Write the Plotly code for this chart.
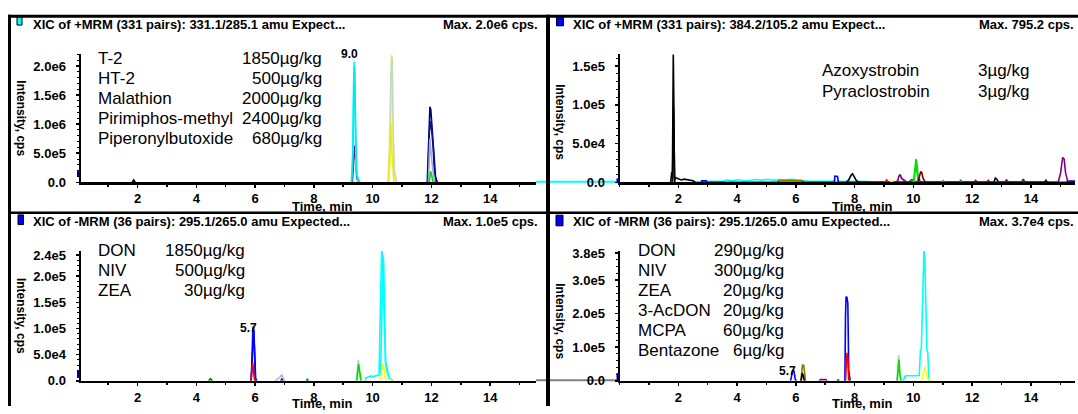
import plotly.graph_objects as go

W, H = 1078, 414
FONT = "Arial, Liberation Sans, sans-serif"

# ------------------------------------------------------------------ data
left_time_range = [0.06, 15.56]
right_time_range = [0.0, 15.5]
time_ticks = [2, 4, 6, 8, 10, 12, 14]

tl_yticks = [0, 5e5, 1.0e6, 1.5e6, 2.0e6]
tl_ytext = ["0.0", "5.0e5", "1.0e6", "1.5e6", "2.0e6"]
tl_yrange = [0, 2.2e6]
tr_yticks = [0, 5e4, 1.0e5, 1.5e5]
tr_ytext = ["0.0", "5.0e4", "1.0e5", "1.5e5"]
tr_yrange = [0, 1.65e5]
bl_yticks = [0, 5e4, 1.0e5, 1.5e5, 2.0e5, 2.4e5]
bl_ytext = ["0.0", "5.0e4", "1.0e5", "1.5e5", "2.0e5", "2.4e5"]
bl_yrange = [0, 2.48e5]
br_yticks = [0, 1.0e5, 2.0e5, 3.0e5, 3.8e5]
br_ytext = ["0.0", "1.0e5", "2.0e5", "3.0e5", "3.8e5"]
br_yrange = [0, 3.86e5]

titles = [
    "XIC of +MRM (331 pairs): 331.1/285.1 amu Expect...",
    "XIC of +MRM (331 pairs): 384.2/105.2 amu Expect...",
    "XIC of -MRM (36 pairs): 295.1/265.0 amu Expected...",
    "XIC of -MRM (36 pairs): 295.1/265.0 amu Expected...",
]
max_labels = ["Max. 2.0e6 cps.", "Max. 795.2 cps.", "Max. 1.0e5 cps.", "Max. 3.7e4 cps."]
title_swatch = ["#00FFFF", "#0000FF", "#0000FF", "#0000FF"]

tl_names = ["T-2", "HT-2", "Malathion", "Pirimiphos-methyl", "Piperonylbutoxide"]
tl_conc = ["1850µg/kg", "500µg/kg", "2000µg/kg", "2400µg/kg", "680µg/kg"]
tr_names = ["Azoxystrobin", "Pyraclostrobin"]
tr_conc = ["3µg/kg", "3µg/kg"]
bl_names = ["DON", "NIV", "ZEA"]
bl_conc = ["1850µg/kg", "500µg/kg", "30µg/kg"]
br_names = ["DON", "NIV", "ZEA", "3-AcDON", "MCPA", "Bentazone"]
br_conc = ["290µg/kg", "300µg/kg", "20µg/kg", "20µg/kg", "60µg/kg", "6µg/kg"]

rt_labels = [("tl", 9.21, 2.2e6, "9.0"), ("bl", 5.77, 1.0e5, "5.7"), ("br", 5.72, 3.0e4, "5.7")]

# ---- top-left traces
a_cyan1_t = [9.27, 9.32, 9.35, 9.37, 9.40, 9.43, 9.47, 9.52, 9.57]
a_cyan1_y = [0, 0.3e6, 1.6e6, 2.08e6, 1.5e6, 0.3e6, 0.12e6, 0.05e6, 0]
a_cyan2_t = [9.29, 9.34, 9.37, 9.39, 9.42, 9.46, 9.50]
a_cyan2_y = [0, 0.8e6, 1.95e6, 2.0e6, 1.0e6, 0.15e6, 0]
a_purple_t = [9.31, 9.36, 9.39, 9.42, 9.46, 9.51]
a_purple_y = [0, 0.35e6, 0.63e6, 0.45e6, 0.08e6, 0]
a_yellow1_t = [10.55, 10.60, 10.63, 10.65, 10.68, 10.72, 10.78]
a_yellow1_y = [0, 0.4e6, 1.6e6, 2.2e6, 1.2e6, 0.2e6, 0]
a_sage_t = [10.53, 10.58, 10.62, 10.65, 10.67, 10.70, 10.74, 10.82]
a_sage_y = [0, 0.7e6, 1.8e6, 2.16e6, 2.1e6, 0.9e6, 0.2e6, 0]
a_yellow2_t = [10.54, 10.59, 10.62, 10.66, 10.72]
a_yellow2_y = [0, 0.6e6, 1.02e6, 0.5e6, 0]
a_navy1_t = [11.86, 11.90, 11.95, 11.98, 12.01, 12.04, 12.09, 12.14, 12.20]
a_navy1_y = [0, 0.6e6, 1.3e6, 1.25e6, 1.0e6, 0.95e6, 0.5e6, 0.1e6, 0]
a_navy2_t = [11.88, 11.93, 11.97, 12.01, 12.06, 12.11, 12.16]
a_navy2_y = [0, 0.85e6, 1.05e6, 0.9e6, 0.6e6, 0.15e6, 0]
a_steel_t = [11.90, 11.95, 11.99, 12.05, 12.12]
a_steel_y = [0, 0.75e6, 0.5e6, 0.2e6, 0]
a_green_t = [11.93, 11.97, 12.01, 12.06]
a_green_y = [0, 0.19e6, 0.12e6, 0]
a_black_t = [1.82, 1.87, 1.92]
a_black_y = [0, 0.04e6, 0]

# ---- top-right traces
b_black1_t = [1.74, 1.78, 1.80, 1.83, 1.85, 1.87, 1.90, 2.00, 2.10, 2.20, 2.30, 2.40, 2.50, 2.58]
b_black1_y = [0, 1.3e4, 0.5e4, 1.66e5, 1.0e5, 0.2e4, 0.6e4, 0.4e4, 0.3e4, 0.4e4, 0.3e4, 0.3e4, 0.2e4, 0]
b_black2_t = [1.80, 1.84, 1.88]
b_black2_y = [0, 0.95e5, 0]
b_cyan_t = [2.55, 2.65, 2.95, 3.25, 3.52, 3.65, 3.85, 4.05, 4.25, 4.45, 4.65, 4.85, 5.05, 5.25,
            5.45, 5.65, 5.85, 6.05, 6.25, 6.40, 6.90, 7.30, 7.70, 8.10, 8.45, 8.55]
b_cyan_y = [0, 1000, 1200, 1000, 1300, 3200, 1800, 3500, 1600, 2500, 3600, 2800, 3800, 2400,
            3600, 3000, 3800, 2800, 2000, 1400, 1200, 1300, 1400, 1200, 1000, 0]
b_olive_t = [5.38, 5.42, 5.60, 5.80, 6.00, 6.22, 6.27]
b_olive_y = [0, 2300, 2600, 2400, 2600, 2300, 0]
b_blue_t = [2.78, 2.80, 2.95, 2.98, 7.31, 7.33, 7.42, 7.45, 10.14, 10.16, 10.19, 10.22, 15.20, 15.26, 15.50]
b_blue_y = [0, 1800, 1800, 0, 0, 8000, 7500, 0, 0, 9000, 8000, 0, 0, 1500, 1500]
b_black3_t = [7.72, 7.80, 7.88, 7.93, 7.99, 8.06, 8.15, 12.74, 12.79, 12.84, 12.90, 14.46, 14.51, 14.56]
b_black3_y = [0, 3000, 9000, 11000, 7000, 2000, 0, 0, 5500, 4000, 0, 0, 2500, 0]
b_red_t = [9.04, 9.09, 9.14]
b_red_y = [0, 3000, 0]
b_yellow_t = [9.22, 9.26, 9.30]
b_yellow_y = [0, 2500, 0]
b_purple_t = [9.40, 9.47, 9.51, 9.55, 9.60, 9.66, 9.71, 9.78, 12.06, 12.12, 12.18, 12.49, 12.55, 12.61,
              13.10, 13.17, 13.24, 13.68, 13.74, 13.80, 14.93, 15.01, 15.08, 15.13, 15.18, 15.24, 15.30]
b_purple_y = [0, 2000, 8000, 10000, 5000, 3500, 1500, 0, 0, 2500, 0, 0, 2500, 0,
              0, 3000, 0, 0, 4000, 0, 0, 12000, 32000, 30000, 12000, 3000, 0]
b_dkgreen_t = [9.86, 9.92, 9.98, 10.04]
b_dkgreen_y = [0, 3000, 3500, 0]
b_green1_t = [10.00, 10.04, 10.07, 10.09, 10.12, 10.15, 10.18]
b_green1_y = [0, 1.2e4, 2.6e4, 3.0e4, 2.4e4, 0.6e4, 0]
b_green2_t = [10.02, 10.06, 10.09, 10.13, 10.17]
b_green2_y = [0, 1.8e4, 2.3e4, 1.2e4, 0]
b_dkred_t = [10.16, 10.20, 10.25, 10.29, 10.33, 10.38, 10.43]
b_dkred_y = [0, 0.7e4, 1.4e4, 1.2e4, 0.5e4, 0.2e4, 0]
b_olive2_t = [10.97, 11.02, 11.07]
b_olive2_y = [0, 2000, 0]
b_teal_t = [11.57, 11.61, 11.65]
b_teal_y = [0, 3000, 0]

# ---- bottom-left traces
c_dkgreen_t = [4.42, 4.48, 4.55]
c_dkgreen_y = [0, 4000, 0]
c_blue1_t = [5.86, 5.89, 5.92, 5.94, 5.96, 5.99, 6.02, 6.06]
c_blue1_y = [0, 0.3e5, 0.9e5, 1.04e5, 0.95e5, 0.4e5, 0.05e5, 0]
c_blue2_t = [5.87, 5.91, 5.95, 5.98, 6.01]
c_blue2_y = [0, 0.6e5, 0.98e5, 0.6e5, 0]
c_red_t = [5.86, 5.89, 5.92, 5.95, 5.99]
c_red_y = [0, 0.2e5, 0.36e5, 0.15e5, 0]
c_ltblue_t = [6.68, 6.76, 6.83, 6.91, 6.95, 7.02]
c_ltblue_y = [0, 3000, 6000, 12000, 5000, 0]
c_purple_t = [6.87, 6.91, 6.95]
c_purple_y = [0, 3500, 0]
c_teal_t = [7.74, 7.78, 7.82]
c_teal_y = [0, 3000, 0]
c_sage_t = [9.45, 9.49, 9.52, 9.55, 9.59]
c_sage_y = [0, 2.5e4, 4.0e4, 1.5e4, 0]
c_green_t = [9.46, 9.50, 9.52, 9.55, 9.58, 9.61]
c_green_y = [0, 2.0e4, 3.2e4, 2.2e4, 0.4e4, 0]
c_cyan1_t = [9.75, 9.77, 9.83, 9.92, 10.00, 10.10, 10.22, 10.27, 10.31, 10.34, 10.37, 10.40, 10.44,
             10.48, 10.53, 10.58, 10.65, 10.70]
c_cyan1_y = [0, 0.6e4, 0.7e4, 0.9e4, 0.8e4, 1.0e4, 1.1e4, 1.6e5, 2.49e5, 2.4e5, 1.8e5, 0.9e5, 0.35e5,
             0.3e5, 0.12e5, 0.05e5, 0.02e5, 0]
c_cyan2_t = [10.27, 10.31, 10.34, 10.36, 10.38, 10.41, 10.44, 10.48, 10.54, 10.60, 10.68]
c_cyan2_y = [0.1e5, 1.2e5, 2.3e5, 2.37e5, 2.2e5, 1.0e5, 0.35e5, 0.2e5, 0.08e5, 0.03e5, 0]
c_yellow_t = [10.25, 10.29, 10.32, 10.34, 10.37, 10.41, 10.45, 10.51, 10.57, 10.62, 10.67]
c_yellow_y = [0, 0.8e4, 2.5e4, 3.3e4, 2.8e4, 1.0e4, 0.4e4, 0.3e4, 0.35e4, 0.2e4, 0]

# ---- bottom-right traces
d_blue1_t = [5.82, 5.86, 5.90, 5.94, 5.98, 6.02]
d_blue1_y = [0, 1.6e4, 3.3e4, 2.8e4, 0.5e4, 0]
d_olive_t = [6.17, 6.20, 6.23, 6.27, 6.30, 6.33]
d_olive_y = [0, 3.5e4, 4.7e4, 4.6e4, 0.8e4, 0]
d_black_t = [6.18, 6.22, 6.25, 6.29]
d_black_y = [0, 2.3e4, 1.6e4, 0]
d_purple_t = [6.80, 6.84, 6.93, 7.02, 7.07]
d_purple_y = [0, 3500, 3800, 3500, 0]
d_teal_t = [7.40, 7.44, 7.48]
d_teal_y = [0, 3500, 0]
d_blue2_t = [7.64, 7.67, 7.69, 7.71, 7.74, 7.77, 7.80, 7.82, 7.85]
d_blue2_y = [0, 0, 1.9e5, 2.5e5, 2.48e5, 2.3e5, 0.3e5, 0.1e5, 0]
d_red_t = [7.69, 7.72, 7.74, 7.77, 7.80]
d_red_y = [0, 0.6e5, 0.83e5, 0.7e5, 0]
d_sage_t = [9.44, 9.48, 9.50, 9.53, 9.57]
d_sage_y = [0, 5e4, 7.6e4, 3e4, 0]
d_green_t = [9.45, 9.48, 9.51, 9.54, 9.58]
d_green_y = [0, 3e4, 6.3e4, 2e4, 0]
d_cyan_t = [9.62, 9.66, 9.70, 9.75, 9.85, 9.95, 10.05, 10.20, 10.24, 10.27, 10.31, 10.34, 10.36,
            10.39, 10.43, 10.46, 10.49, 10.51, 10.53, 10.56]
d_cyan_y = [0, 0, 1.2e4, 1.5e4, 1.5e4, 1.4e4, 1.5e4, 1.6e4, 9.0e4, 9.5e4, 2.5e5, 3.85e5, 3.88e5,
            3.6e5, 1.5e5, 9.0e4, 8.5e4, 2e4, 0, 0]
d_yellow_t = [10.28, 10.32, 10.36, 10.39, 10.43, 10.48, 10.54, 10.60, 10.66]
d_yellow_y = [0, 1.5e4, 3.5e4, 4.2e4, 2.5e4, 0.6e4, 0.4e4, 0.3e4, 0]

# (panel, colour, t, y)
series = [
    ("tl", "#000000", a_black_t, a_black_y),
    ("tl", "#800080", a_purple_t, a_purple_y),
    ("tl", "#00FFFF", a_cyan1_t, a_cyan1_y),
    ("tl", "#00E8F0", a_cyan2_t, a_cyan2_y),
    ("tl", "#FFFF00", a_yellow1_t, a_yellow1_y),
    ("tl", "#C4D8C4", a_sage_t, a_sage_y),
    ("tl", "#E8E830", a_yellow2_t, a_yellow2_y),
    ("tl", "#000080", a_navy1_t, a_navy1_y),
    ("tl", "#10108A", a_navy2_t, a_navy2_y),
    ("tl", "#A0ACD8", a_steel_t, a_steel_y),
    ("tl", "#00E000", a_green_t, a_green_y),
    ("tr", "#00FFFF", b_cyan_t, b_cyan_y),
    ("tr", "#808000", b_olive_t, b_olive_y),
    ("tr", "#000000", b_black1_t, b_black1_y),
    ("tr", "#000000", b_black2_t, b_black2_y),
    ("tr", "#0000FF", b_blue_t, b_blue_y),
    ("tr", "#000000", b_black3_t, b_black3_y),
    ("tr", "#FF0000", b_red_t, b_red_y),
    ("tr", "#FFFF00", b_yellow_t, b_yellow_y),
    ("tr", "#800080", b_purple_t, b_purple_y),
    ("tr", "#006400", b_dkgreen_t, b_dkgreen_y),
    ("tr", "#00E000", b_green1_t, b_green1_y),
    ("tr", "#00E000", b_green2_t, b_green2_y),
    ("tr", "#800000", b_dkred_t, b_dkred_y),
    ("tr", "#808000", b_olive2_t, b_olive2_y),
    ("tr", "#008080", b_teal_t, b_teal_y),
    ("bl", "#008000", c_dkgreen_t, c_dkgreen_y),
    ("bl", "#0000FF", c_blue1_t, c_blue1_y),
    ("bl", "#0000FF", c_blue2_t, c_blue2_y),
    ("bl", "#FF0000", c_red_t, c_red_y),
    ("bl", "#A0C0F0", c_ltblue_t, c_ltblue_y),
    ("bl", "#800080", c_purple_t, c_purple_y),
    ("bl", "#008080", c_teal_t, c_teal_y),
    ("bl", "#B8CCB8", c_sage_t, c_sage_y),
    ("bl", "#00E000", c_green_t, c_green_y),
    ("bl", "#00FFFF", c_cyan1_t, c_cyan1_y),
    ("bl", "#00FFFF", c_cyan2_t, c_cyan2_y),
    ("bl", "#FFFF00", c_yellow_t, c_yellow_y),
    ("br", "#0000FF", d_blue1_t, d_blue1_y),
    ("br", "#808000", d_olive_t, d_olive_y),
    ("br", "#000000", d_black_t, d_black_y),
    ("br", "#800080", d_purple_t, d_purple_y),
    ("br", "#008080", d_teal_t, d_teal_y),
    ("br", "#0000FF", d_blue2_t, d_blue2_y),
    ("br", "#FF0000", d_red_t, d_red_y),
    ("br", "#B8CCB8", d_sage_t, d_sage_y),
    ("br", "#00E000", d_green_t, d_green_y),
    ("br", "#00FFFF", d_cyan_t, d_cyan_y),
    ("br", "#FFFF00", d_yellow_t, d_yellow_y),
]

# ------------------------------------------------------------------ layout geometry (pixels)
def px(x):
    return x / W


def py(y):
    return 1 - y / H


panels = {
    # name: (axis index, x0px, x1px, ytop px, ybottom px, x range, yticks, ytext, yrange, minor dtick)
    "tl": (1, 80.5, 536, 51, 183, left_time_range, tl_yticks, tl_ytext, tl_yrange, 1e5),
    "tr": (2, 619.5, 1075, 51, 183, right_time_range, tr_yticks, tr_ytext, tr_yrange, 1e4),
    "bl": (3, 80.5, 536, 254, 388, left_time_range, bl_yticks, bl_ytext, bl_yrange, 1e4),
    "br": (4, 619.5, 1075, 254, 388, right_time_range, br_yticks, br_ytext, br_yrange, 2e4),
}

fig = go.Figure()
tickfont = dict(family=FONT, size=13, color="black", weight="bold")

for name, (i, x0, x1, yt, yb, xr, ytv, ytt, yr, mdt) in panels.items():
    sx = "" if i == 1 else str(i)
    fig.layout["xaxis" + sx] = dict(
        domain=[px(x0), px(x1)], range=xr, anchor="y" + sx,
        tickvals=time_ticks, ticks="outside", ticklen=3, tickwidth=1.5, tickcolor="black",
        minor=dict(dtick=1, ticks="outside", ticklen=2, tickwidth=1.5, tickcolor="black"),
        showline=True, linewidth=2.5, linecolor="black", showgrid=False, zeroline=False,
        tickfont=tickfont, fixedrange=True,
    )
    fig.layout["yaxis" + sx] = dict(
        domain=[py(yb), py(yt)], range=yr, anchor="x" + sx,
        tickvals=ytv, ticktext=ytt, ticks="outside", ticklen=3, tickwidth=1.5, tickcolor="black",
        minor=dict(dtick=mdt, ticks="outside", ticklen=2, tickwidth=1, tickcolor="black"),
        ticklabelstandoff=7,
        showline=True, linewidth=2, linecolor="black", showgrid=False, zeroline=False,
        tickfont=tickfont, fixedrange=True,
    )

axis_of = {k: v[0] for k, v in panels.items()}
for name, color, t, y in series:
    i = axis_of[name]
    sx = "" if i == 1 else str(i)
    fig.add_trace(go.Scatter(x=t, y=y, mode="lines", line=dict(color=color, width=1.6),
                             xaxis="x" + sx, yaxis="y" + sx, showlegend=False, hoverinfo="skip"))

annotations = []
shapes = []


def text(x, y, s, size, anchor="left", bold=False, angle=0, color="black"):
    f = dict(family=FONT, size=size, color=color)
    if bold:
        f["weight"] = "bold"
    annotations.append(dict(x=px(x), y=py(y), xref="paper", yref="paper", text=s, showarrow=False,
                            xanchor=anchor, yanchor="middle", font=f, textangle=angle))


# panel headers
header_pos = [(30.5, 540, 20.5, 17, 12.7, 22, 20.7), (571, 1076, 20.5, 556.5, 13, 563.5, 21.5),
              (30.5, 540, 224, 18, 216.7, 23.5, 226.7), (571, 1076, 224, 556, 217, 563, 228)]
for k, (tx, mx, ty, sx0, sy0, sx1, sy1) in enumerate(header_pos):
    text(tx, ty, titles[k], 13, "left", bold=True)
    text(mx, ty, max_labels[k], 13, "right", bold=True)
    shapes.append(dict(type="rect", xref="paper", yref="paper", x0=px(sx0), x1=px(sx1), y0=py(sy1),
                       y1=py(sy0), fillcolor=title_swatch[k], line=dict(color="black", width=1)))

# y titles and x titles
for (x, y) in [(21, 117), (560, 121), (21, 321), (560.5, 326)]:
    text(x, y, "Intensity, cps", 12, "center", bold=True, angle=90)
for (x, y) in [(322, 208.5), (862, 208.5), (322, 411.5), (862, 411.5)]:
    text(x, y, "Time, min", 13, "center", bold=True)

# compound tables
row_step = 20.65
for k, (n, c) in enumerate(zip(tl_names, tl_conc)):
    yy = 55.5 + k * row_step
    text(96.4, yy, n, 17, "left")
    text(323.7, yy, c, 17, "right")
for k, (n, c) in enumerate(zip(tr_names, tr_conc)):
    yy = 67.8 + k * 21.4
    text(819.7, yy, n, 17, "left")
    text(976, yy, c, 17, "left")
for k, (n, c) in enumerate(zip(bl_names, bl_conc)):
    yy = 253.5 + k * row_step
    text(96.4, yy, n, 17, "left")
    text(247, yy, c, 17, "right")
for k, (n, c) in enumerate(zip(br_names, br_conc)):
    yy = 253.5 + k * row_step
    text(636, yy, n, 17, "left")
    text(786.4, yy, c, 17, "right")

# retention-time labels (data coordinates)
for name, t, v, s in rt_labels:
    i = axis_of[name]
    sx = "" if i == 1 else str(i)
    annotations.append(dict(x=t, y=v, xref="x" + sx, yref="y" + sx, text=s, showarrow=False,
                            xanchor="center", yanchor="middle",
                            font=dict(family=FONT, size=12, color="black", weight="bold")))


# decorations: stray baseline pieces, left-edge markers, panel frames
def hline(x0, x1, y, color, width):
    shapes.append(dict(type="line", xref="paper", yref="paper", x0=px(x0), x1=px(x1), y0=py(y),
                       y1=py(y), line=dict(color=color, width=width), layer="below"))


def frame(x0, y0, x1, y1, width):
    shapes.append(dict(type="line", xref="paper", yref="paper", x0=px(x0), x1=px(x1), y0=py(y0),
                       y1=py(y1), line=dict(color="black", width=width), layer="above"))


hline(536, 620, 182.5, "#00FFFF", 2)
hline(536, 620, 387.5, "#808080", 2)
for (x0, y0, x1, y1) in [(77, 171.5, 80, 177), (616.5, 179, 619.5, 184), (77, 377, 80, 385),
                         (616.5, 380, 619.5, 387)]:
    shapes.append(dict(type="rect", xref="paper", yref="paper", x0=px(x0), x1=px(x1), y0=py(y1), y1=py(y0),
                       fillcolor="#000080", line=dict(width=0)))

frame(8, 11.5, 1078, 11.5, 3)
frame(9.5, 10, 9.5, 414, 3)
frame(548, 10, 548, 414, 4)
frame(8, 214.5, 1078, 214.5, 2.5)

fig.update_layout(
    width=W, height=H, margin=dict(l=0, r=0, t=0, b=0),
    paper_bgcolor="white", plot_bgcolor="white",
    annotations=annotations, shapes=shapes, showlegend=False,
)

fig.write_html("out.html", config={"displayModeBar": False, "staticPlot": True},
               post_script="document.body.style.margin='0px';document.body.style.overflow='hidden';")
